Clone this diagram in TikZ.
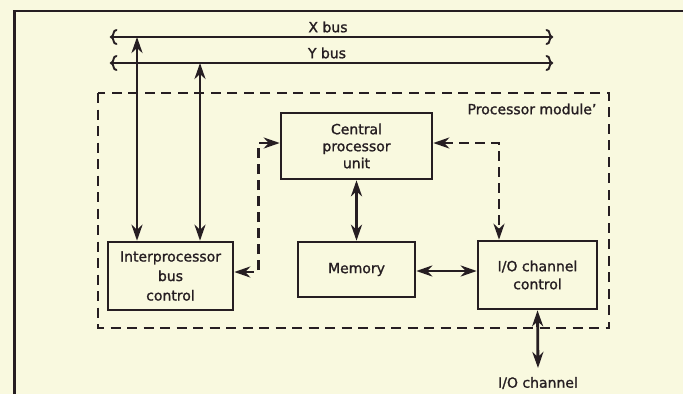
\documentclass[tikz,border=0pt]{standalone}
\usepackage{fontspec}
\setmainfont[FakeBold=1.3]{DejaVu Sans}
\usetikzlibrary{arrows.meta}
\definecolor{paper}{RGB}{249,249,223}
\definecolor{ink}{RGB}{38,30,34}
\tikzset{
  curlL/.pic={\draw[ink, line width=1.9pt, line cap=round]
      (3.5,-7) .. controls (-0.5,-7) and (1.5,-1) .. (-2,0)
               .. controls (1.5,1) and (-0.5,7) .. (3.5,7);},
  curlR/.pic={\draw[ink, line width=1.9pt, line cap=round]
      (-3.5,-7) .. controls (0.5,-7) and (-1.5,-1) .. (2,0)
                .. controls (-1.5,1) and (0.5,7) .. (-3.5,7);}
}
\begin{document}
\begin{tikzpicture}[x=1pt,y=-1pt,
  txt/.style={text=ink, font=\fontsize{14}{17}\selectfont},
  box/.style={draw=ink, line width=2.6pt, rectangle, inner sep=0pt,
              align=center, txt},
  tag/.style={txt, inner sep=0pt},
  link/.style={draw=ink, line width=2.8pt,
               >={Stealth[length=16pt,width=11pt,inset=5pt]}, <->},
  dlink/.style={link, line width=2.4pt, dash pattern=on 10pt off 6pt},
  bus/.style={draw=ink, line width=2.8pt},
  module/.style={draw=ink, line width=2.4pt, dash pattern=on 10pt off 6.5pt}]

% page and background
\useasboundingbox (0,0) rectangle (683,394);
\fill[paper] (0,0) rectangle (683,394);

% frame
\draw[ink, line width=2.2pt] (14.5,394) -- (14.5,11) -- (683,11);

% buses
\coordinate (xbL) at (113,37);
\coordinate (xbR) at (550,37);
\coordinate (ybL) at (113,63);
\coordinate (ybR) at (550,63);
\draw[bus] (xbL) -- (xbR);
\draw[bus] (ybL) -- (ybR);
\pic at (xbL) {curlL};
\pic at (ybL) {curlL};
\pic at (xbR) {curlR};
\pic at (ybR) {curlR};
\node[tag] (xlab) at (328,27) {X bus};
\node[tag] (ylab) at (327,53) {Y bus};

% processor module outline
\draw[module] (98,93) rectangle (609,328);
\node[tag] (modlab) at (532,109) {Processor module’};

% units
\node[box, minimum width=151pt, minimum height=66pt] (cpu) at (356.5,146)
  {Central\\processor\\unit};
\node[box, minimum width=125pt, minimum height=68pt,
      font=\fontsize{14}{19.5}\selectfont] (ibc) at (170.5,276)
  {Interprocessor\\bus\\control};
\node[box, minimum width=117pt, minimum height=55pt] (mem) at (356.5,269.5)
  {Memory};
\node[box, minimum width=119pt, minimum height=68pt,
      font=\fontsize{14}{18}\selectfont] (ioc) at (537.5,275)
  {I/O channel\\control};
\node[tag] (iolab) at (538,383) {I/O channel};
\coordinate (ioend) at (538,368);

% bus connections
\draw[link] ([xshift=-33.5pt]ibc.north) -- ([xshift=-33.5pt]ibc.north |- xbL);
\draw[link] ([xshift=29.5pt]ibc.north) -- ([xshift=29.5pt]ibc.north |- ybL);

% internal connections
\draw[link] (cpu.south) -- (cpu.south |- mem.north);
\draw[link] ([yshift=-1.5pt]mem.east) -- ([yshift=-1.5pt]mem.east -| ioc.west);
\draw[link] (ioc.south) -- (ioend);

% control paths
\draw[dlink] ([yshift=4pt]ibc.east) -- ++(24,0) |- ([yshift=3pt]cpu.west);
\draw[dlink] ([yshift=3pt]cpu.east) -| ([xshift=-38.5pt]ioc.north);

\end{tikzpicture}
\end{document}
